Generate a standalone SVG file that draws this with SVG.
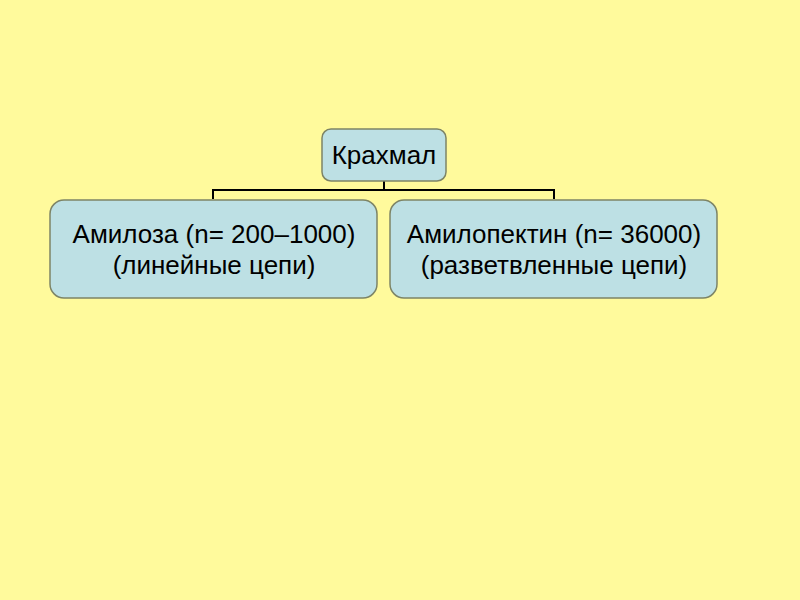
<svg xmlns="http://www.w3.org/2000/svg" width="800" height="600" viewBox="0 0 800 600">
<style>
.box{fill:#bde0e4;stroke:#7d8466;stroke-width:1.5}
.t{font-family:"Liberation Sans",Arial,sans-serif;font-size:26px;fill:#000;text-anchor:middle}
.c{fill:none;stroke:#000;stroke-width:2}
</style>
<rect width="800" height="600" fill="#fffa9c"/>
<g id="connectors">
<path class="c" d="M384 181 V190 M213 199 V190 H554 V199"/>
</g>
<g id="krakhmal">
<rect class="box" x="322" y="129" width="124" height="52" rx="9"/>
<text class="t" x="384" y="164">Крахмал</text>
</g>
<g id="amiloza">
<rect class="box" x="50" y="200" width="327" height="98" rx="14"/>
<text class="t" x="214" y="243">Амилоза (n= 200–1000)</text>
<text class="t" x="214" y="274">(линейные цепи)</text>
</g>
<g id="amilopektin">
<rect class="box" x="390" y="200" width="327" height="98" rx="14"/>
<text class="t" x="554" y="243">Амилопектин (n= 36000)</text>
<text class="t" x="554" y="274">(разветвленные цепи)</text>
</g>
</svg>
